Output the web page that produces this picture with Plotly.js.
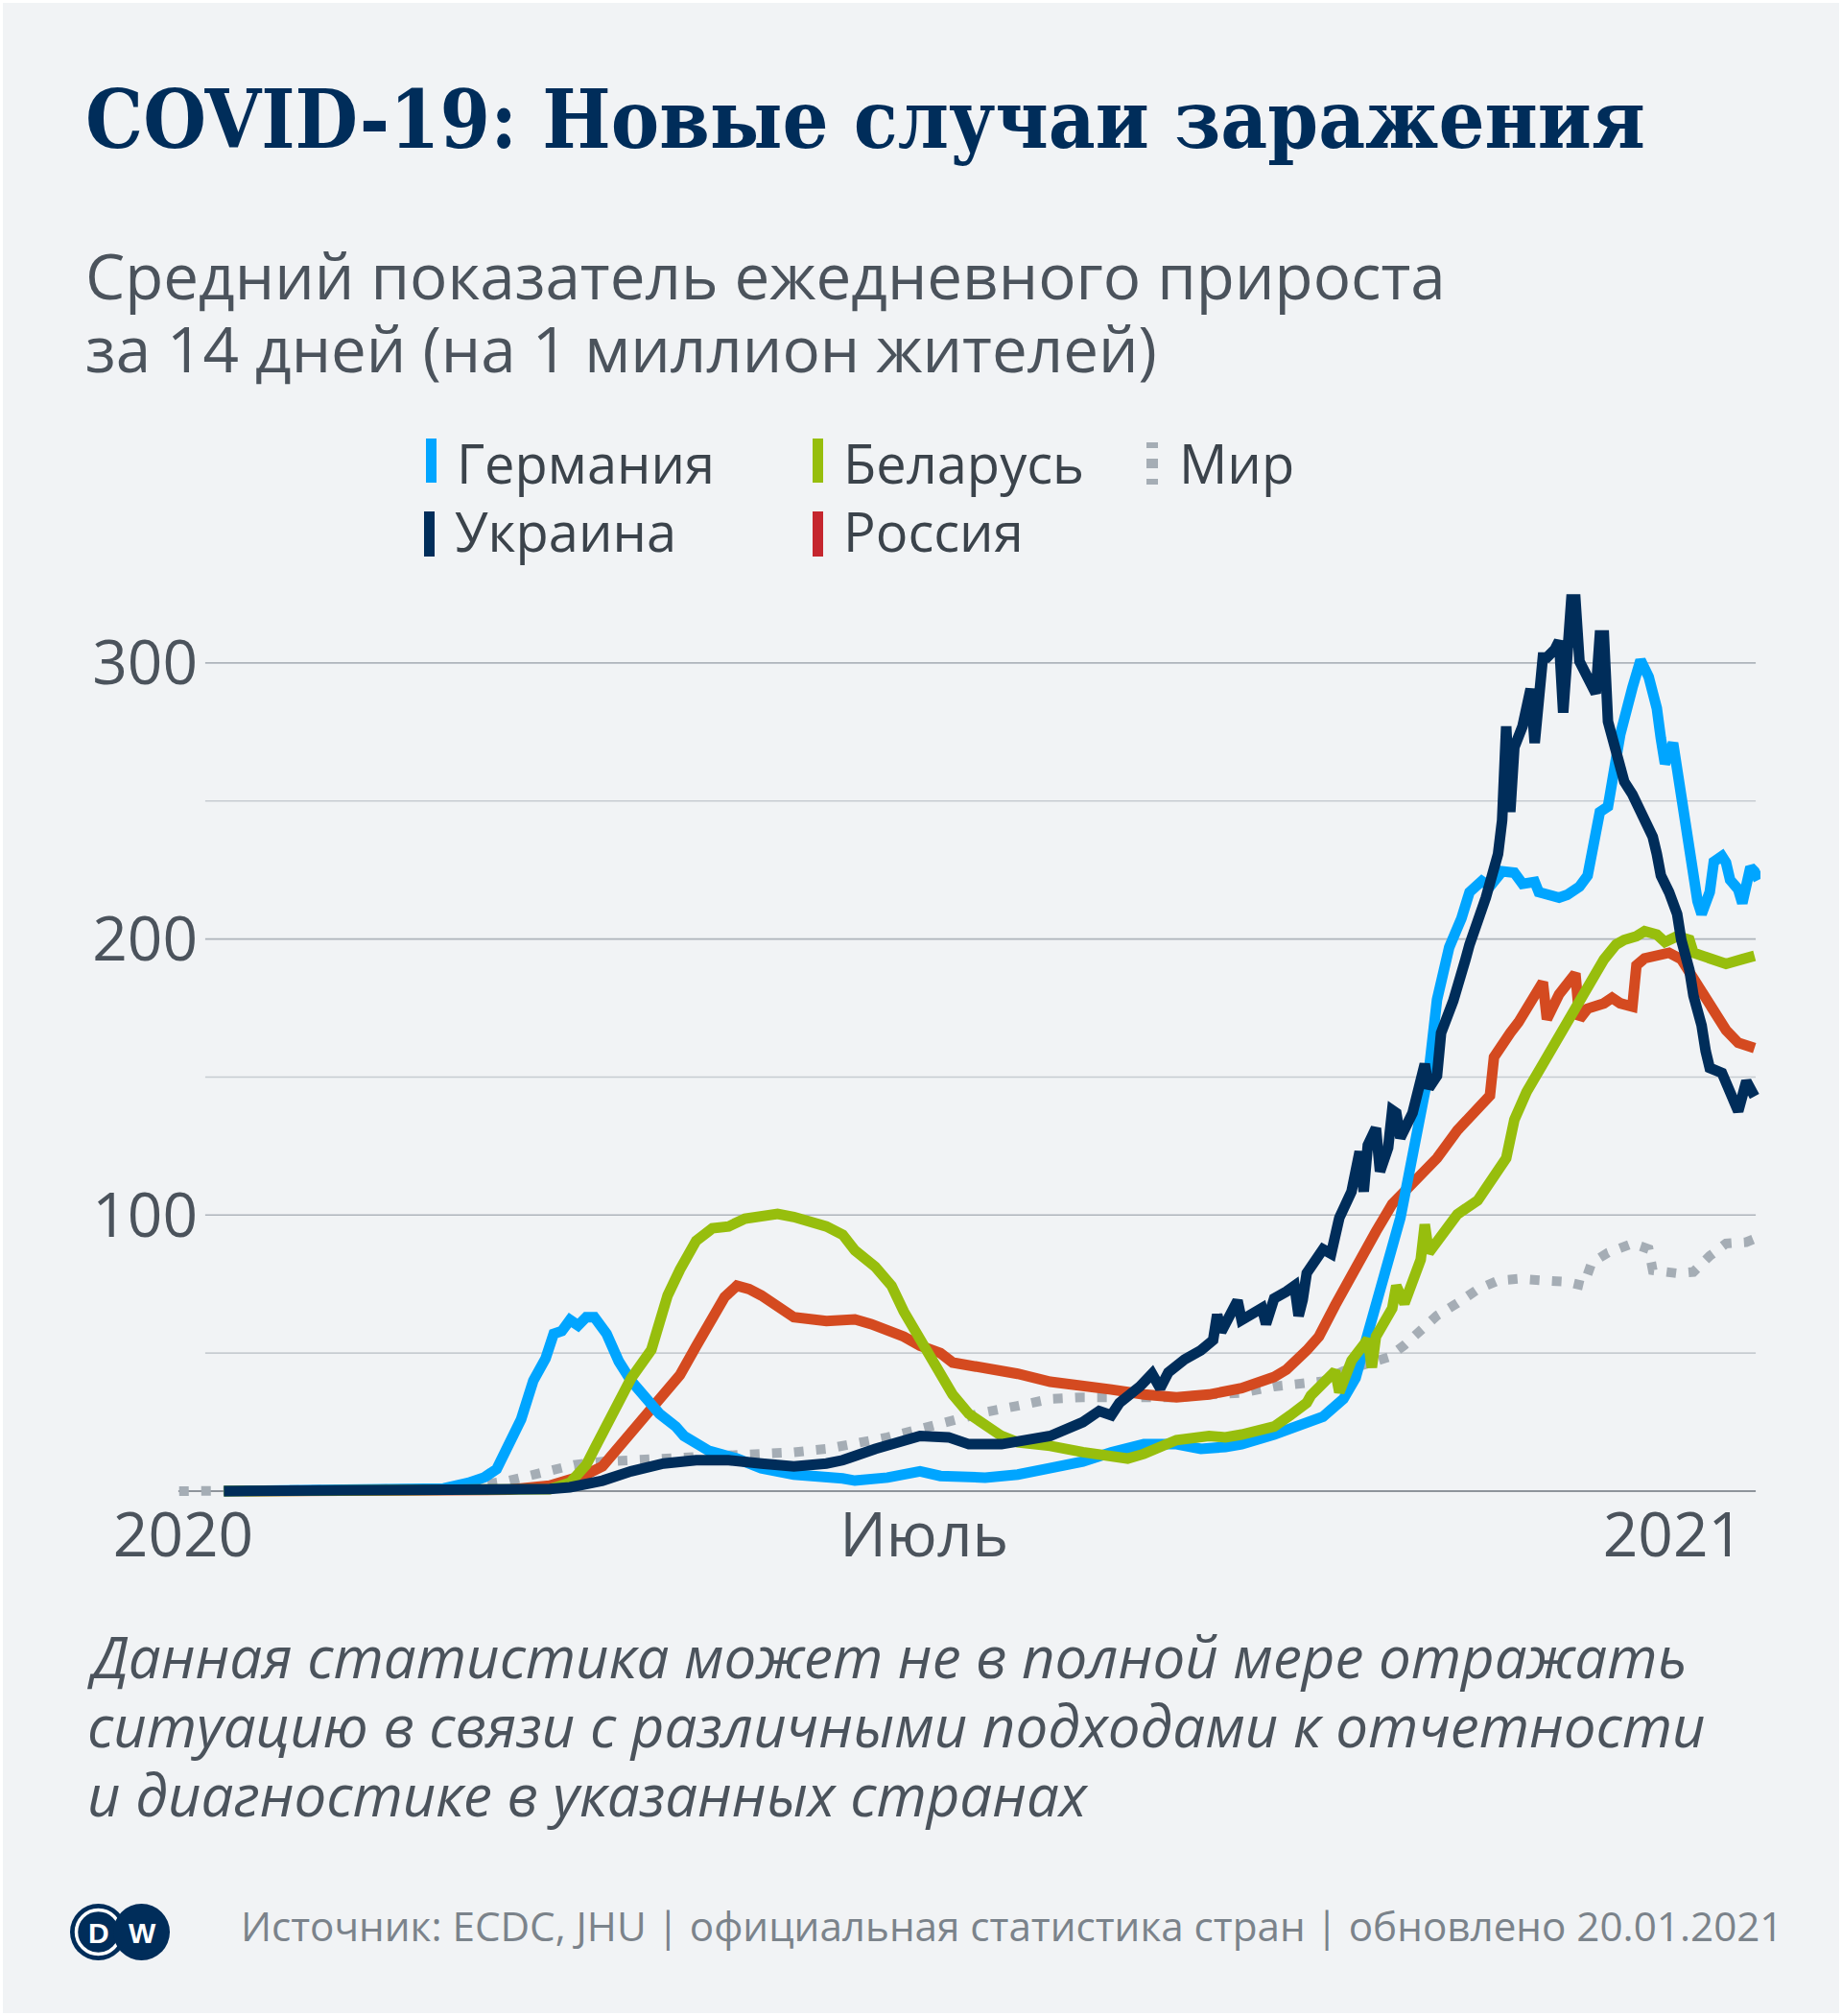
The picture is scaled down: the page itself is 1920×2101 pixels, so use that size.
<!DOCTYPE html>
<html>
<head>
<meta charset="utf-8">
<script src="https://cdn.plot.ly/plotly-3.0.1.min.js"></script>
<style>
html,body{margin:0;padding:0;background:#ffffff;}
#chart{width:1920px;height:2101px;}
</style>
</head>
<body>
<div id="chart"></div>
<script>
// ---- DATA (day = days since 2020-01-01; values = 14-day average of daily new cases per 1 million) ----
const germanyDays = [10,60,64,70,74,77,79,83,86,89,91,93,95,97,99,101,104,107,110,114,117,121,123,129,136,142,150,162,165,173,181,186,189,197,205,213,221,228,236,244,250,256,260,268,276,280,285,288,291,294,297,299,301,304,306,308,310,311,314,316,319,321,324,327,329,332,333,338,340,343,345,348,350,353,356,358,360,362,363,364,366,367,369,371,372,373,375,376,378,379,380,382,383,385,386,387];
const germanyValues = [0,0.3,1,3,5,8,14,26,40,48,57,58,62,60,63,63,57,47,40,32.6,28,23.4,20,14.7,11.8,8.3,6,4.6,3.8,4.9,7.2,5.5,5.5,4.9,6,8.3,10.7,14.1,17,17,15.3,16,17,20.5,24.6,27,33.4,41,57,72.6,87.6,99,114,135.6,152,178,192,197,207.5,217,221,219,224.5,224,220,220.7,217,215,216,219,223,246,248,274,291,301,295,283.6,272.6,263.5,271,261.7,238.5,223,213.7,209,217,228,230,227.7,221.4,218,213,226,224.5,221.4];

const ukraineDays = [10,80,90,95,103,110,118,126,134,142,150,158,162,170,177,181,188,193,201,205,213,221,225,228,230,235,238,240,242,246,250,253,254,255,259,260,265,266,268,271,273,274,275,276,280,282,284,287,289,290,291,293,294,296,297,298,299,302,305,306,308,309,312,315,316,320,323,324,325,326,327,329,331,332,334,335,337,338,339,341,342,343,345,346,347,348,349,350,352,354,356,359,361,362,363,365,367,368,370,371,373,374,375,378,380,382,384,386];
const ukraineValues = [0,0.3,0.8,1.4,3.8,7.2,10,11.2,11.2,10,9,10,11.2,15.3,18.2,20,19.5,17,17,17.7,20,25,29,27.5,32,37.9,42.5,37.3,43,47.7,51,54.7,64,57.7,69,62,66.3,60.5,69.8,72.3,74.4,63.5,69.3,79,87.6,86,99,108.5,123,108.5,125.3,131.5,115.8,124.4,138,137,128,137,154.7,146,150.5,166,177.6,192.6,198,215,230.8,243,277,246,269.5,277,290.6,271,302,302,305,308,282,323,323,300.6,294.4,292,289,310,310,278.8,266.4,257,252.4,243,237,230.8,223,217,209,199.7,188.8,179.5,168.7,159.4,153.3,151.5,143.9,137.6,148.5,143];

const belarusDays = [10,85,90,95,99,101,104,108,110,115,117,119,122,126,130,134,138,142,146,150,154,158,162,165,170,174,177,181,185,189,193,197,201,205,213,221,228,232,236,240,244,252,256,260,264,268,272,276,277,283,284,287,291,292,293,297,298,300,304,305,306,310,313,318,321,325,327,330,334,338,342,345,349,352,354,357,359,362,364,367,370,371,375,379,383,386];
const belarusValues = [0,0.3,0.7,3,9.5,15.3,23.4,33.8,40.8,51.2,60.5,70.9,80.2,90.7,95.2,95.9,98.7,99.9,100.4,99.3,97.6,95.9,92.9,87.2,81.3,74.4,65.1,55,44,35,28,23.4,20,17.7,16.4,14.1,12.2,11.8,13.5,16.4,18.5,20,19.5,20.5,21.7,23.4,27.5,32,34.6,43.5,35.8,47.3,55,44.8,56,66.2,74.4,68,83.9,96.6,86.4,95.2,100.3,105.3,111.7,120.6,134.5,144.6,154.7,164.8,174.8,183.7,192.6,198,199.7,201,202.8,201.6,198.9,201,199.7,195,192.7,191,192.7,193.9];

const russiaDays = [10,80,90,95,99,103,106,110,114,118,122,126,130,133,136,139,142,146,150,158,165,169,173,177,181,186,189,197,205,213,221,228,236,244,252,260,268,271,276,279,283,288,293,297,302,308,313,318,321,322,323,326,328,330,334,335,338,342,343,345,349,351,353,356,357,359,362,365,368,371,375,379,382,384,386];
const russiaValues = [0,0.5,2,4.3,6,9,14.1,21.2,28,35,42,52.5,63,70.3,74.4,73.2,70.9,66.9,63,61.6,62.2,60.5,58.7,56,52.7,50,46.6,44.8,42.5,39.6,38.6,36.8,35,34,35,37.3,41.4,44,51,56,67.4,81.3,94,104,111.7,120.6,130.7,139.5,143.3,157.2,159.7,166,169.8,174.8,184.4,171,180,187.5,171,174.8,176.7,178.7,176.7,175.5,190.5,193,194,195,192.7,185.7,174.8,167,162.4,161.5,160.5];

const worldDays = [-1,60,68,80,90,96,103,110,118,126,134,142,150,158,165,173,181,189,197,205,213,221,228,236,244,252,260,268,276,280,285,291,296,300,304,308,313,318,323,328,334,340,344,346,350,356,360,361,367,371,375,379,384,386];
const worldValues = [0,0.3,1,3.8,7.2,9.5,10.7,11.2,11.6,11.8,12.4,13,14.1,15.3,17,19.5,22.5,25.7,28.6,30.9,33.4,34,34,34,34,35,35.6,37.9,38.7,39.8,43.5,46,48.5,52.9,58.6,63.6,68.1,73.1,76.3,76.9,76.3,75.8,74.4,82.7,86.4,89.7,87.7,80,78.9,79.4,85.2,89.7,90.2,91.4];

const xTickDays = [0, 182, 366];
const xTickLabels = ['2020', 'Июль', '2021'];
const yTickValues = [100, 200, 300];
const gridValues = [50, 100, 150, 200, 250, 300];

const seriesNames = ['Германия', 'Украина', 'Беларусь', 'Россия', 'Мир'];

// ---- helpers ----
const BASE = Date.UTC(2020, 0, 1);
function dayToDate(d) {
  return new Date(BASE + d * 86400000).toISOString().replace('T', ' ').slice(0, 19);
}
const W = 1920, H = 2101, L = 180, R = 85, T = 600, B = 535;
const PW = W - L - R, PH = H - T - B;
const px = x => (x - L) / PW;
const py = y => (H - B - y) / PH;

function trace(days, values, name, color, width, dash) {
  return {
    type: 'scatter', mode: 'lines', name: name,
    x: days.map(dayToDate), y: values,
    line: {color: color, width: width, dash: dash || 'solid', shape: 'linear'},
    hoverinfo: 'skip', showlegend: false
  };
}

const data = [
  trace(worldDays, worldValues, seriesNames[4], '#a5adb5', 10, '10px,13px'),
  trace(russiaDays, russiaValues, seriesNames[3], '#d44a20', 11),
  trace(germanyDays, germanyValues, seriesNames[0], '#00a5ff', 11),
  trace(belarusDays, belarusValues, seriesNames[2], '#97be0d', 11),
  trace(ukraineDays, ukraineValues, seriesNames[1], '#002d5a', 11)
];

const shapes = [];
// gridlines
gridValues.forEach(v => {
  shapes.push({type: 'line', xref: 'x', yref: 'y', layer: 'below',
    x0: dayToDate(5.4), x1: dayToDate(386.3), y0: v, y1: v,
    line: {color: (v % 100 === 0) ? '#aeb4bb' : '#c7ccd1', width: 1.6}});
});
// baseline
shapes.push({type: 'line', xref: 'x', yref: 'y', layer: 'below',
  x0: dayToDate(-1.2), x1: dayToDate(386.3), y0: 0, y1: 0,
  line: {color: '#6c747d', width: 1.6}});

function rectPx(x0, y0, x1, y1, color) {
  return {type: 'rect', xref: 'paper', yref: 'paper',
    x0: px(x0), x1: px(x1), y0: py(y1), y1: py(y0),
    fillcolor: color, line: {width: 0}};
}
// legend markers
shapes.push(rectPx(444, 457, 455, 503, '#00a5ff'));
shapes.push(rectPx(847, 457, 858, 503, '#97be0d'));
shapes.push(rectPx(1195, 461, 1207, 467, '#a5adb5'));
shapes.push(rectPx(1195, 478, 1207, 488, '#a5adb5'));
shapes.push(rectPx(1195, 499, 1207, 505, '#a5adb5'));
shapes.push(rectPx(442, 533, 453, 580, '#002d5a'));
shapes.push(rectPx(847, 533, 858, 580, '#c5262e'));

// DW logo
function circlePx(cx, cy, r, fill, lineColor, lineWidth) {
  return {type: 'circle', xref: 'paper', yref: 'paper',
    x0: px(cx - r), x1: px(cx + r), y0: py(cy + r), y1: py(cy - r),
    fillcolor: fill, line: {color: lineColor, width: lineWidth}};
}
shapes.push(circlePx(102.5, 2013.5, 29.5, '#002d5a', '#002d5a', 0));
shapes.push(circlePx(102.5, 2013.5, 23, 'rgba(0,0,0,0)', '#ffffff', 3.5));
shapes.push(circlePx(147.5, 2013.5, 29.5, '#002d5a', '#002d5a', 0));

// white frame
shapes.push({type: 'rect', xref: 'paper', yref: 'paper',
  x0: px(0), x1: px(W), y0: py(H), y1: py(0),
  fillcolor: 'rgba(0,0,0,0)', line: {color: '#ffffff', width: 6}});

function ann(text, x, y, font, xanchor) {
  return {text: text, x: px(x), y: py(y), xref: 'paper', yref: 'paper',
    xanchor: xanchor || 'left', yanchor: 'middle', showarrow: false,
    borderpad: 0, font: font};
}
const sans = 'Open Sans, Noto Sans, sans-serif';
const annotations = [
  ann('COVID-19: Новые случаи заражения', 88, 124,
      {family: 'DejaVu Serif Condensed, DejaVu Serif, serif', size: 84, weight: 700, color: '#002d5a'}),
  ann('Средний показатель ежедневного прироста', 88, 286, {family: sans, size: 65.5, color: '#4b535c'}),
  ann('за 14 дней (на 1 миллион жителей)', 88, 363, {family: sans, size: 65.5, color: '#4b535c'}),
  ann(seriesNames[0], 475, 482, {family: sans, size: 56, color: '#3b434b'}),
  ann(seriesNames[2], 878, 482, {family: sans, size: 56, color: '#3b434b'}),
  ann(seriesNames[4], 1228, 482, {family: sans, size: 56, color: '#3b434b'}),
  ann(seriesNames[1], 473, 553, {family: sans, size: 56, color: '#3b434b'}),
  ann(seriesNames[3], 878, 553, {family: sans, size: 56, color: '#3b434b'}),
  ann('Данная статистика может не в полной мере отражать', 90, 1726,
      {family: sans, size: 60, style: 'italic', color: '#4b535c'}),
  ann('ситуацию в связи с различными подходами к отчетности', 90, 1798,
      {family: sans, size: 60, style: 'italic', color: '#4b535c'}),
  ann('и диагностике в указанных странах', 90, 1870,
      {family: sans, size: 60, style: 'italic', color: '#4b535c'}),
  ann('Источник: ECDC, JHU | официальная статистика стран | обновлено 20.01.2021', 250, 2006,
      {family: sans, size: 42.2, color: '#7b838b'}),
  ann('D', 103, 2014, {family: 'Liberation Sans, Arial, sans-serif', size: 30, weight: 700, color: '#ffffff'}, 'center'),
  ann('W', 148, 2014, {family: 'Liberation Sans, Arial, sans-serif', size: 30, weight: 700, color: '#ffffff'}, 'center')
];

const layout = {
  width: W, height: H,
  margin: {l: L, r: R, t: T, b: B, pad: 0},
  paper_bgcolor: '#f1f3f5', plot_bgcolor: 'rgba(0,0,0,0)',
  showlegend: false,
  xaxis: {
    type: 'date',
    range: [dayToDate(-2.593), dayToDate(387.46)],
    tickmode: 'array', tickvals: xTickDays.map(dayToDate), ticktext: xTickLabels,
    showgrid: false, zeroline: false, showline: false, ticks: '',
    ticklabelstandoff: -9,
    tickfont: {family: sans, size: 64, color: '#4b535c'},
    fixedrange: true
  },
  yaxis: {
    range: [-4.17, 331.6],
    tickmode: 'array', tickvals: yTickValues,
    showgrid: false, zeroline: false, showline: false, ticks: '',
    anchor: 'free', position: px(206),
    tickfont: {family: sans, size: 64, color: '#4b535c'},
    fixedrange: true
  },
  shapes: shapes,
  annotations: annotations
};

Plotly.newPlot('chart', data, layout, {displayModeBar: false, staticPlot: true});
</script>
</body>
</html>
